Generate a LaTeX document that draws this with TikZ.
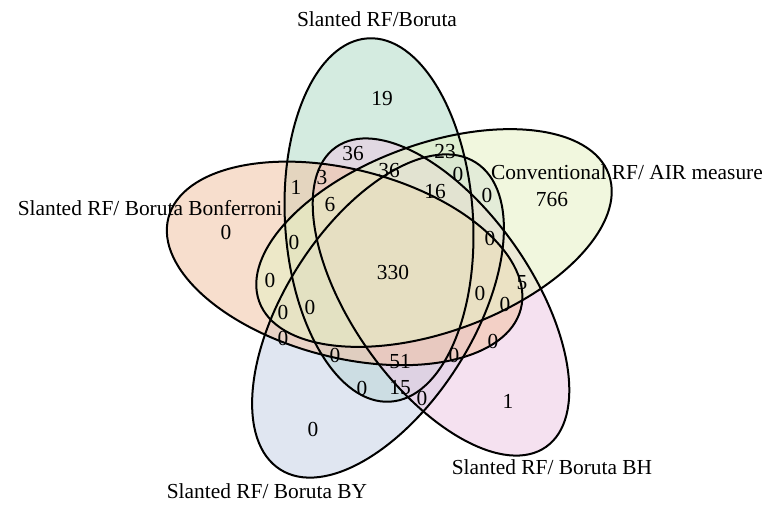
\documentclass[tikz,border=0pt]{standalone}
\usepackage{fontspec}
\setmainfont{Liberation Serif}
\definecolor{cGreen}{RGB}{177,220,199}
\definecolor{cYellow}{RGB}{230,242,196}
\definecolor{cPink}{RGB}{237,202,228}
\definecolor{cBlue}{RGB}{199,210,231}
\definecolor{cOrange}{RGB}{242,195,164}
\begin{document}
\begin{tikzpicture}[x=0.5pt,y=-0.5pt,
  setfill/.style={fill=#1, fill opacity=0.55, draw=none},
  setline/.style={draw=black, line width=1pt, fill=none},
  num/.style={font=\fontsize{10.7}{12}\selectfont, inner sep=0pt},
  setlabel/.style={font=\fontsize{10.7}{12}\selectfont, inner sep=0pt}]
\useasboundingbox[fill=white] (0,0) rectangle (769,505);
% fills (drawing order sets the blend)
\fill[setfill=cGreen, rotate around={3.5:(379,220)}] (379,220) ellipse [x radius=94, y radius=182];
\fill[setfill=cBlue, rotate around={147.5:(378,316)}] (378,316) ellipse [x radius=94, y radius=182];
\fill[setfill=cPink, rotate around={-145:(441,297)}] (441,297) ellipse [x radius=90, y radius=183];
\fill[setfill=cOrange, rotate around={75.5:(344.6,263.4)}] (344.6,263.4) ellipse [x radius=94, y radius=182];
\fill[setfill=cYellow, rotate around={-70:(434,238)}] (434,238) ellipse [x radius=94, y radius=186];
% outlines
\draw[setline, rotate around={3.5:(379,220)}] (379,220) ellipse [x radius=94, y radius=182];
\draw[setline, rotate around={-70:(434,238)}] (434,238) ellipse [x radius=94, y radius=186];
\draw[setline, rotate around={-145:(441,297)}] (441,297) ellipse [x radius=90, y radius=183];
\draw[setline, rotate around={147.5:(378,316)}] (378,316) ellipse [x radius=94, y radius=182];
\draw[setline, rotate around={75.5:(344.6,263.4)}] (344.6,263.4) ellipse [x radius=94, y radius=182];
% set labels
\node[setlabel] (lA) at (377,19) {Slanted RF/Boruta};
\node[setlabel] (lB) at (627,172) {Conventional RF/ AIR measure};
\node[setlabel] (lC) at (552,467) {Slanted RF/ Boruta BH};
\node[setlabel] (lD) at (267,491) {Slanted RF/ Boruta BY};
\node[setlabel] (lE) at (150,208) {Slanted RF/ Boruta Bonferroni};
% counts
\node[num] (n1) at (382,99) {19};
\node[num] (n2) at (552,200) {766};
\node[num] (n3) at (508,401) {1};
\node[num] (n4) at (313,429) {0};
\node[num] (n5) at (226,232) {0};
\node[num] (n6) at (353,154) {36};
\node[num] (n7) at (445,152) {23};
\node[num] (n8) at (389,171) {36};
\node[num] (n9) at (322,178) {3};
\node[num] (n10) at (296,187) {1};
\node[num] (n11) at (458,174) {0};
\node[num] (n12) at (435,192) {16};
\node[num] (n13) at (487,195) {0};
\node[num] (n14) at (330,205) {6};
\node[num] (n15) at (294,242) {0};
\node[num] (n16) at (490,238) {0};
\node[num] (n17) at (393,272) {330};
\node[num] (n18) at (270,280) {0};
\node[num] (n19) at (522,283) {5};
\node[num] (n20) at (480,293) {0};
\node[num] (n21) at (310,307) {0};
\node[num] (n22) at (283,312) {0};
\node[num] (n23) at (505,304) {0};
\node[num] (n24) at (283,338) {0};
\node[num] (n25) at (493,341) {0};
\node[num] (n26) at (335,355) {0};
\node[num] (n27) at (400,362) {51};
\node[num] (n28) at (454,355) {0};
\node[num] (n29) at (362,388) {0};
\node[num] (n30) at (400,388) {15};
\node[num] (n31) at (422,398) {0};
\end{tikzpicture}
\end{document}
